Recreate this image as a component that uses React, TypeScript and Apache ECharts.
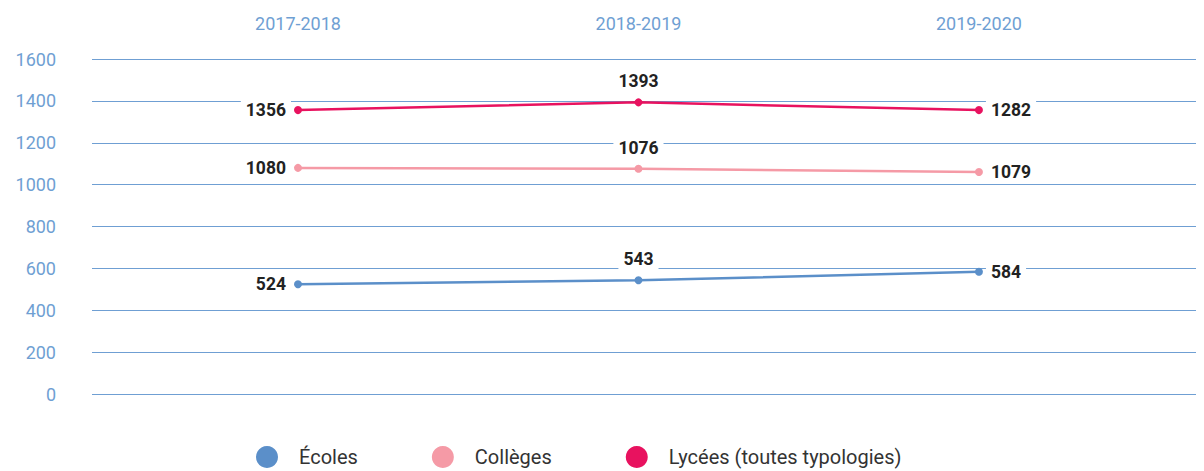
import React, { useEffect, useRef } from "react";
import * as echarts from "echarts";

const categories = ["2017-2018", "2018-2019", "2019-2020"];
const seriesNames = ["Écoles", "Collèges", "Lycées (toutes typologies)"];
// plotted positions
const ecoles = [524, 543, 584];
const colleges = [1080, 1076, 1060];
const lycees = [1356, 1393, 1356];
// printed labels
const ecolesLabels = ["524", "543", "584"];
const collegesLabels = ["1080", "1076", "1079"];
const lyceesLabels = ["1356", "1393", "1282"];
const yTicks = [0, 200, 400, 600, 800, 1000, 1200, 1400, 1600];

const colors = ["#5b8fc9", "#f59aa6", "#e8125f"];
const labelPos = ["left", "top", "right"];

export default function App() {
  const ref = useRef<HTMLDivElement>(null);
  useEffect(() => {
    if (!ref.current) return;
    const chart = echarts.init(ref.current, undefined, { renderer: "svg" });
    const font = "Roboto";
    const mk = (vals: number[], labels: string[], i: number) => ({
      name: seriesNames[i],
      type: "line",
      data: vals.map((v, k) => ({
        value: [k, v],
        label: {
          show: true,
          position: labelPos[k],
          distance: k === 1 ? 7 : 3,
          formatter: labels[k],
        },
      })),
      symbol: "circle",
      symbolSize: 8,
      color: colors[i],
      lineStyle: { width: 2.5, color: colors[i] },
      itemStyle: { color: colors[i] },
      label: {
        color: "#222",
        fontFamily: font,
        fontWeight: "bold",
        fontSize: 17.5,
        backgroundColor: "#fff",
        padding: [1, 5],
      },
      z: 3 + i,
    });
    chart.setOption({
      animation: false,
      grid: { left: 92, right: 0, top: 59, bottom: 77 },
      legend: {
        top: 441,
        left: 251,
        icon: "circle",
        itemWidth: 22,
        itemHeight: 22,
        itemGap: 74,
        textStyle: { fontFamily: font, fontSize: 20, color: "#333", padding: [0, 0, 0, 16] },
        data: seriesNames,
      },
      xAxis: {
        type: "value",
        position: "top",
        min: -0.605,
        max: 2.661,
        axisLine: { show: false },
        axisTick: { show: false },
        splitLine: { show: false },
        axisLabel: {
          customValues: [0, 1, 2],
          formatter: (v: number) => categories[Math.round(v)] ?? "",
          color: "#6f9fd3",
          fontFamily: font,
          fontSize: 18,
          margin: 27,
        },
      },
      yAxis: {
        type: "value",
        min: 0,
        max: 1600,
        interval: 200,
        axisLine: { show: false },
        axisTick: { show: false },
        axisLabel: {
          color: "#6f9fd3",
          fontFamily: font,
          fontSize: 18,
          margin: 36,
          formatter: (v: number) => (yTicks.includes(v) ? String(v) : ""),
        },
        splitLine: { lineStyle: { color: "#6f9fd3", width: 1 } },
      },
      series: [
        mk(ecoles, ecolesLabels, 0),
        mk(colleges, collegesLabels, 1),
        mk(lycees, lyceesLabels, 2),
      ],
    });
    return () => chart.dispose();
  }, []);
  return <div ref={ref} style={{ width: 1204, height: 471, marginTop: -8, marginLeft: -8 }} />;
}
